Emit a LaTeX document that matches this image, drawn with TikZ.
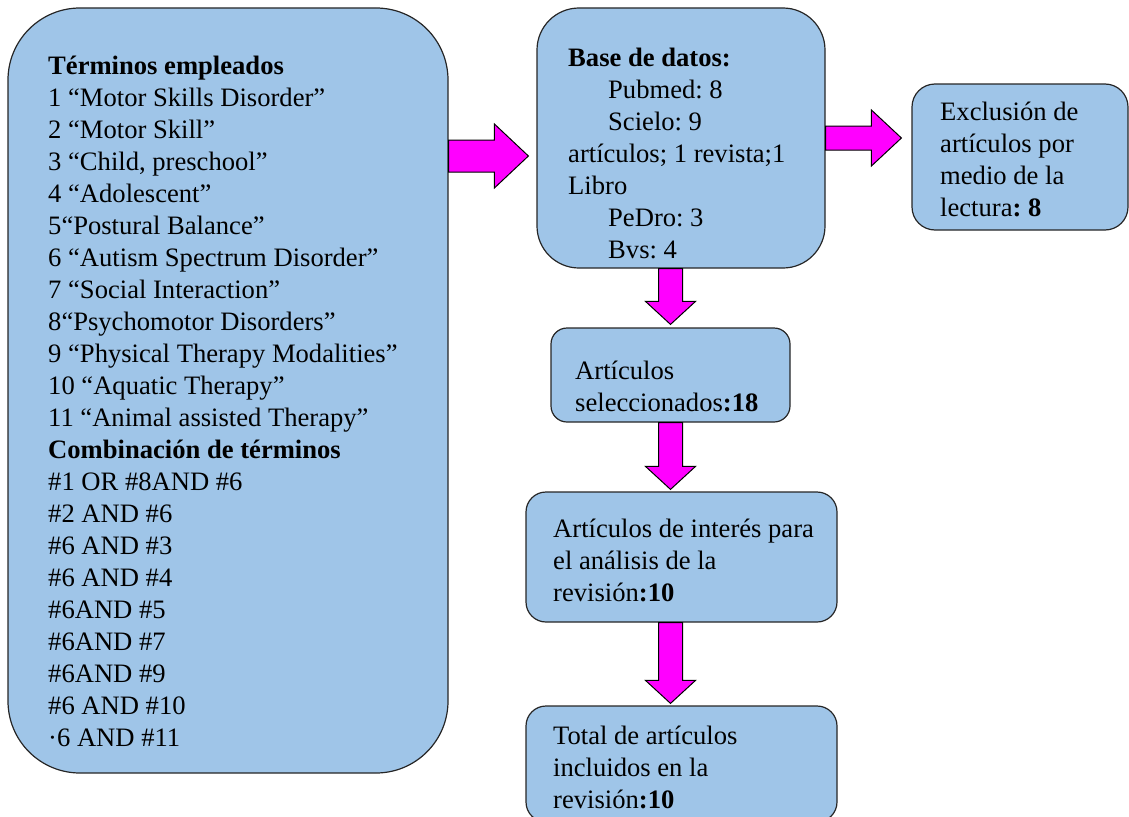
\documentclass[tikz,border=0pt]{standalone}
\usepackage{fontspec}
\setmainfont{Liberation Serif}
\usepackage{tikz}
\usetikzlibrary{calc}
\tikzset{every node/.append style={align=left}}
\definecolor{boxcolor}{RGB}{159,197,232}
\definecolor{arrowcolor}{RGB}{255,0,255}
\tikzset{
  flowbox/.style={draw=black!85, line width=1.2pt, fill=boxcolor, inner sep=0pt},
  boxtext/.style={right, inner sep=0pt, font=\fontsize{26.6}{32}\selectfont\frenchspacing},
  fatarrow/.style={draw=black, line width=1pt, fill=arrowcolor, line join=miter}
}
% block arrows: start, tip, shaft half width, head half width, head length
\newcommand{\fatright}[5]{%
  \draw[fatarrow] let \p1=#1, \p2=#2 in
    (\x1,\y2+#3) -- (\x2-#5,\y2+#3) -- (\x2-#5,\y2+#4) -- (\x2,\y2)
    -- (\x2-#5,\y2-#4) -- (\x2-#5,\y2-#3) -- (\x1,\y2-#3) -- cycle;}
\newcommand{\fatdown}[5]{%
  \draw[fatarrow] let \p1=#1, \p2=#2 in
    (\x2-#3,\y1) -- (\x2-#3,\y2+#5) -- (\x2-#4,\y2+#5) -- (\x2,\y2)
    -- (\x2+#4,\y2+#5) -- (\x2+#3,\y2+#5) -- (\x2+#3,\y1) -- cycle;}

\begin{document}
\begin{tikzpicture}[x=1pt, y=-1pt]
    \useasboundingbox (0,0) rectangle (1129,816);

    % Search terms
    \node[flowbox, rounded corners=72pt, minimum width=440pt, minimum height=765pt] (terms) at (228, 390.5) {};
    \node[boxtext] (termstxt) at (48, 401) {\textbf{Términos empleados}\\
        1 “Motor Skills Disorder”\\
        2 “Motor Skill”\\
        3 “Child, preschool”\\
        4 “Adolescent”\\
        5“Postural Balance”\\
        6 “Autism Spectrum Disorder”\\
        7 “Social Interaction”\\
        8“Psychomotor Disorders”\\
        9 “Physical Therapy Modalities”\\
        10 “Aquatic Therapy”\\
        11 “Animal assisted Therapy”\\
        \textbf{Combinación de términos}\\
        \#1 OR \#8AND \#6\\
        \#2 AND \#6\\
        \#6 AND \#3\\
        \#6 AND \#4\\
        \#6AND \#5\\
        \#6AND \#7\\
        \#6AND \#9\\
        \#6 AND \#10\\
        ·6 AND \#11};

    % Databases
    \node[flowbox, rounded corners=42pt, minimum width=288pt, minimum height=260pt] (base) at (681, 138) {};
    \node[boxtext] (basetxt) at (568, 153) {\textbf{Base de datos:}\\
        \hspace*{40pt}Pubmed: 8\\
        \hspace*{40pt}Scielo: 9\\
        artículos; 1 revista;1\\
        Libro\\
        \hspace*{40pt}PeDro: 3\\
        \hspace*{40pt}Bvs: 4};

    % Excluded
    \node[flowbox, rounded corners=23pt, minimum width=216pt, minimum height=146pt] (excl) at (1020, 157) {};
    \node[boxtext] (excltxt) at (940, 159) {Exclusión de\\artículos por\\medio de la\\lectura\textbf{: 8}};

    % Selected
    \node[flowbox, rounded corners=16pt, minimum width=239pt, minimum height=94pt] (sel) at (670.5, 375) {};
    \node[boxtext] (seltxt) at (575, 386) {Artículos\\seleccionados\textbf{:18}};

    % Of interest
    \node[flowbox, rounded corners=20pt, minimum width=311pt, minimum height=130pt] (interest) at (681.5, 557) {};
    \node[boxtext] (interesttxt) at (553, 560) {Artículos de interés para\\el análisis de la\\revisión\textbf{:10}};

    % Included
    \node[flowbox, rounded corners=20pt, minimum width=311pt, minimum height=116pt] (total) at (681.5, 764) {};
    \node[boxtext] (totaltxt) at (553, 767) {Total de artículos\\incluidos en la\\revisión\textbf{:10}};

    % Arrows
    \fatright{(terms.east)}{($(base.west)+(-8,18)$)}{16pt}{32pt}{34pt}
    \fatright{(base.east)}{($(excl.west |- base.east)+(-10,0)$)}{12pt}{28pt}{30pt}
    \fatdown{(base.south)}{($(sel.north)+(0,-3)$)}{12pt}{25pt}{23pt}
    \fatdown{(sel.south)}{($(interest.north -| sel.south)+(0,-2)$)}{12pt}{25pt}{23pt}
    \fatdown{(interest.south)}{($(total.north -| sel.south)+(0,-2)$)}{12pt}{25pt}{23pt}
\end{tikzpicture}
\end{document}
